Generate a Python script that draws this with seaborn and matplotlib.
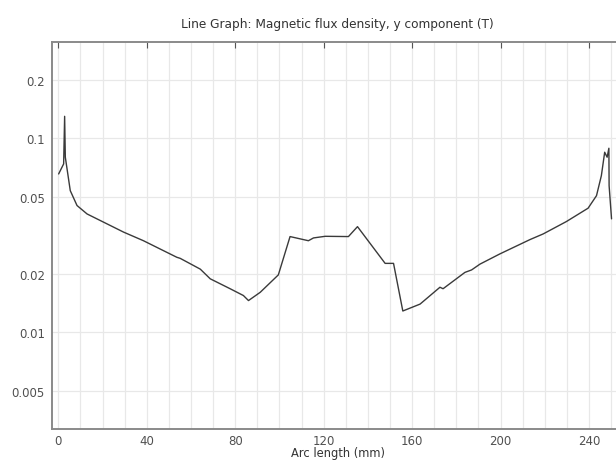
import matplotlib
matplotlib.use("Agg")
import matplotlib.pyplot as plt
import seaborn as sns
import pandas as pd
from matplotlib.ticker import FixedLocator, NullLocator, FixedFormatter

arc_length_mm = [0.14, 2.4, 2.85, 3.16, 5.4, 8.45, 13.0, 20.5, 29.5, 38.5, 46.1, 53.6,
                 55.1, 64.2, 68.7, 77.7, 83.7, 86.0, 91.3, 99.5, 104.8, 113.1, 115.4,
                 120.7, 131.2, 135.3, 147.8, 151.6, 155.8, 163.6, 172.6, 174.0, 183.9,
                 186.9, 190.7, 199.7, 213.3, 219.3, 229.8, 239.6, 243.4, 245.6, 247.1,
                 248.2, 249.0, 249.1, 250.2]
by_tesla = [0.0656, 0.0739, 0.130, 0.080, 0.0538, 0.0451, 0.0408, 0.0370, 0.0329, 0.0297,
            0.0269, 0.0244, 0.0241, 0.0212, 0.0189, 0.0168, 0.0155, 0.0146, 0.0161, 0.0198,
            0.0312, 0.0297, 0.0307, 0.0313, 0.0312, 0.0351, 0.0227, 0.0227, 0.0129, 0.0140,
            0.0171, 0.0168, 0.0204, 0.0210, 0.0225, 0.0254, 0.0301, 0.0322, 0.0373, 0.0437,
            0.0507, 0.0643, 0.0849, 0.080, 0.0890, 0.0571, 0.0385]

x_ticks = [0, 40, 80, 120, 160, 200, 240]
y_ticks = [0.005, 0.01, 0.02, 0.05, 0.1, 0.2]
y_tick_labels = ["0.005", "0.01", "0.02", "0.05", "0.1", "0.2"]
x_grid = list(range(0, 260, 10))

title = "Line Graph: Magnetic flux density, y component (T)"
xlabel = "Arc length (mm)"

sns.set_theme(style="white")
plt.rcParams['font.family'] = ['DejaVu Sans']

df = pd.DataFrame({"x": arc_length_mm, "y": by_tesla})

fig = plt.figure(figsize=(6.16, 4.64), dpi=100)
ax = fig.add_axes([51.7 / 616, 1 - 430 / 464, 572 / 616, (430 - 43) / 464])

ax.set_yscale("log")
ax.set_xlim(-3.0, 255.7)
ax.set_ylim(0.00318, 0.314)

for gx in x_grid:
    ax.axvline(gx, color="#e8e8e8", lw=0.9, zorder=0)
for gy in y_ticks:
    ax.axhline(gy, color="#e8e8e8", lw=0.9, zorder=0)

sns.lineplot(data=df, x="x", y="y", ax=ax, color="#3a3a3a", lw=1.0,
             sort=False, estimator=None, zorder=3)

ax.xaxis.set_major_locator(FixedLocator(x_ticks))
ax.yaxis.set_major_locator(FixedLocator(y_ticks))
ax.yaxis.set_major_formatter(FixedFormatter(y_tick_labels))
ax.yaxis.set_minor_locator(NullLocator())
ax.tick_params(axis="both", which="major", direction="in", length=4, width=0.8,
               color="#555555", labelsize=8.5, labelcolor="#505050", pad=5,
               top=True, right=True)
ax.tick_params(axis="x", pad=3.5)

for s in ax.spines.values():
    s.set_color("#8a8a8a")
    s.set_linewidth(1.4)

ax.set_xlabel(xlabel, fontsize=8.3, color="#333333", labelpad=-0.5)
ax.set_ylabel("")
ax.set_title(title, fontsize=8.7, color="#333333", pad=11, x=(337 - 51.7) / 572)

fig.savefig("out.png", dpi=100)
